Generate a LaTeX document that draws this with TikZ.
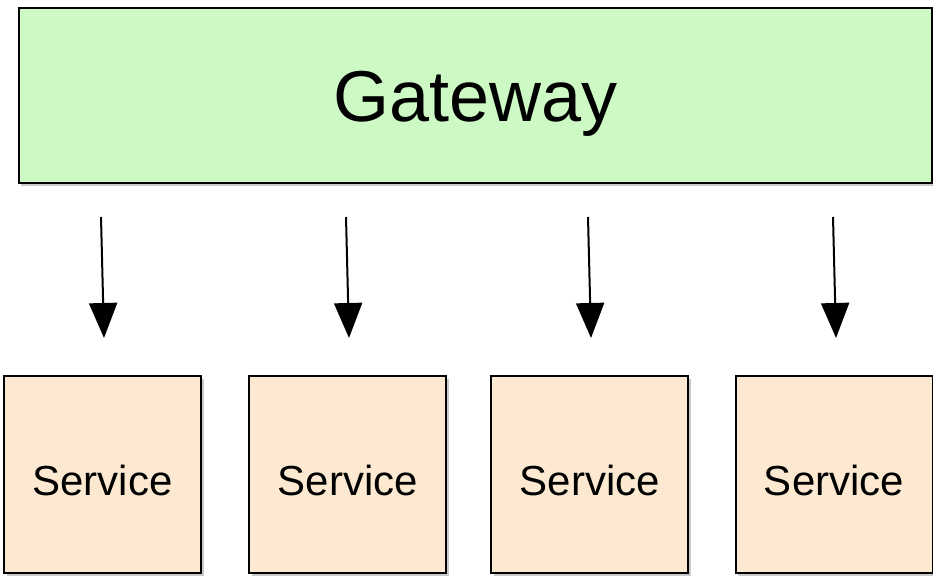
\documentclass[tikz,border=0pt]{standalone}
\usepackage{fontspec}
\setmainfont{Liberation Sans}
\usetikzlibrary{arrows.meta,shadows}
\definecolor{gwgreen}{RGB}{204,249,196}
\definecolor{svpeach}{RGB}{253,233,209}
\tikzset{
  boxshadow/.style={drop shadow={shadow xshift=2.5pt,shadow yshift=-3pt,opacity=0.35,fill=black!60}},
  gwbox/.style={draw=black,line width=2pt,fill=gwgreen,boxshadow,minimum width=913.5pt,minimum height=175pt,inner sep=0pt,text height=52pt,text depth=0pt,font=\fontsize{72}{80}\selectfont},
  svbox/.style={draw=black,line width=2pt,fill=svpeach,boxshadow,minimum width=197pt,minimum height=197pt,inner sep=0pt,text height=42pt,text depth=0pt,font=\fontsize{42}{48}\selectfont},
  flow/.style={line width=2pt,-{Triangle[width=28pt,length=35pt]}}
}
\begin{document}
\begin{tikzpicture}[x=1pt,y=1pt]
\useasboundingbox (0,0) rectangle (933,578);
\node[gwbox] (gw) at (475.25,482.5) {Gateway};
\node[svbox] (s1) at (102.5,103.5) {Service};
\node[svbox] (s2) at (347.85,103.5) {Service};
\node[svbox] (s3) at (589.7,103.5) {Service};
\node[svbox] (s4) at (834,103.5) {Service};
\coordinate (a1s) at (101,361);
\coordinate (a1e) at (104,240);
\coordinate (a2s) at (346,361);
\coordinate (a2e) at (349,240);
\coordinate (a3s) at (588,361);
\coordinate (a3e) at (591,240);
\coordinate (a4s) at (833,361);
\coordinate (a4e) at (836,240);
\draw[flow] (a1s) -- (a1e);
\draw[flow] (a2s) -- (a2e);
\draw[flow] (a3s) -- (a3e);
\draw[flow] (a4s) -- (a4e);
\end{tikzpicture}
\end{document}
